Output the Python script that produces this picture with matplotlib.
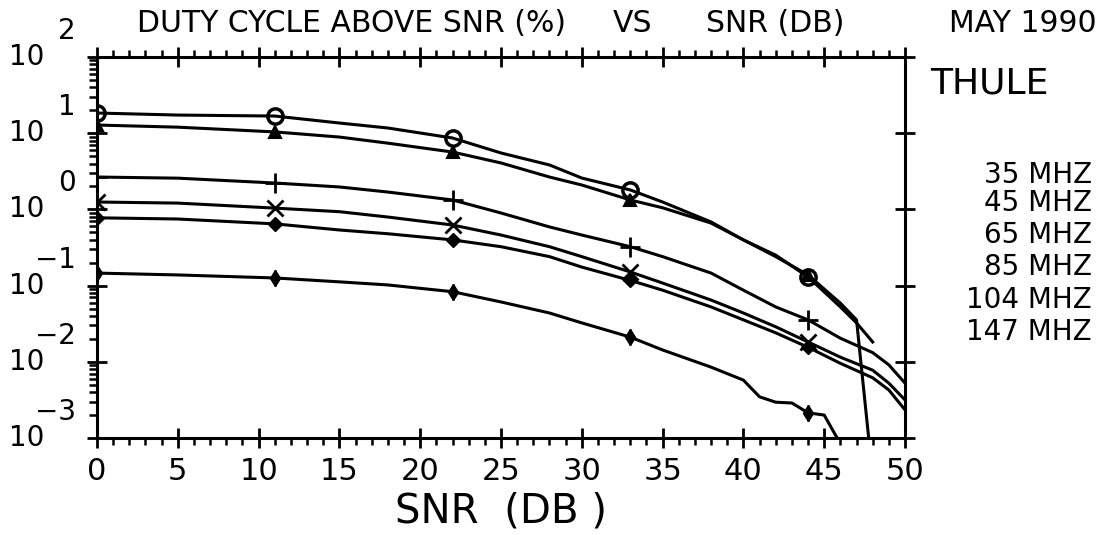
import matplotlib
matplotlib.use("Agg")
import matplotlib.pyplot as plt
import matplotlib.transforms as mtransforms
from matplotlib.ticker import MultipleLocator, LogLocator, NullFormatter

plt.rcParams['font.family'] = ['DejaVu Sans']

# duty cycle above SNR (%), per frequency
snr_a = [0, 5, 11, 15, 18, 22, 25, 28, 30, 33, 35, 38, 40, 42, 44, 46, 47, 48]
duty_35 = [18.4, 17.3, 16.8, 13.6, 11.7, 8.65, 5.5, 3.83, 2.58, 1.80, 1.25,
           0.684, 0.398, 0.251, 0.130, 0.0525, 0.0324, 0.0182]

snr_b = [0, 5, 11, 15, 18, 22, 25, 28, 30, 33, 35, 38, 40, 42, 44, 46, 47, 47.8]
duty_45 = [12.8, 12.0, 10.4, 8.9, 7.4, 5.66, 4.07, 2.66, 2.09, 1.33, 1.05,
           0.661, 0.398, 0.240, 0.138, 0.0589, 0.0355, 0.0008]

snr_c = [0, 5, 11, 15, 18, 22, 25, 28, 30, 33, 35, 38, 40, 42, 44, 46, 48, 49, 50]
duty_65 = [2.66, 2.57, 2.22, 1.97, 1.69, 1.33, 0.897, 0.589, 0.461, 0.324, 0.240,
           0.146, 0.0871, 0.0525, 0.0355, 0.0204, 0.0132, 0.00912, 0.00525]
duty_85 = [1.25, 1.21, 1.04, 0.933, 0.794, 0.624, 0.461, 0.324, 0.240, 0.151, 0.108,
           0.0646, 0.0437, 0.0288, 0.0182, 0.0115, 0.00776, 0.00525, 0.00316]
duty_104 = [0.776, 0.748, 0.646, 0.537, 0.479, 0.398, 0.324, 0.240, 0.175, 0.117, 0.0871,
            0.0525, 0.0355, 0.0240, 0.0155, 0.00955, 0.00617, 0.00427, 0.00234]

snr_f = [0, 5, 11, 15, 18, 22, 25, 28, 30, 33, 35, 38, 40, 41, 42, 43, 44, 45, 45.8]
duty_147 = [0.146, 0.138, 0.126, 0.112, 0.102, 0.0832, 0.0610, 0.0437, 0.0324, 0.0211,
            0.0143, 0.00851, 0.00575, 0.00347, 0.00295, 0.00288, 0.00214, 0.00200, 0.00100]

marker_snr = [0, 11, 22, 33, 44]
freq_labels = ['35 MHZ', '45 MHZ', '65 MHZ', '85 MHZ', '104 MHZ', '147 MHZ']
label_ypix = [175, 203, 235, 267, 300, 332]
xtick_vals = [0, 5, 10, 15, 20, 25, 30, 35, 40, 45, 50]
ytick_exps = [2, 1, 0, -1, -2, -3]

W, H = 1101, 535
fig = plt.figure(figsize=(W / 100, H / 100), dpi=100)
ax = fig.add_axes([97 / W, 1 - 438 / H, (905 - 97) / W, (438 - 57) / H])


def marks(xs):
    return [i for i, x in enumerate(xs) if x in marker_snr]


lw = 2.2
ax.plot(snr_a, duty_35, color='black', lw=lw, marker='o', ms=11, mfc='none', mew=2.5,
        markevery=marks(snr_a))
ax.plot(snr_b, duty_45, color='black', lw=lw, marker='^', ms=9, mew=1.5,
        markevery=marks(snr_b))
ax.plot(snr_c, duty_65, color='black', lw=lw, marker='+', ms=14, mew=2,
        markevery=marks(snr_c))
ax.plot(snr_c, duty_85, color='black', lw=lw, marker='x', ms=11, mew=2,
        markevery=marks(snr_c))
ax.plot(snr_c, duty_104, color='black', lw=lw, marker='D', ms=7,
        markevery=marks(snr_c))
ax.plot(snr_f, duty_147, color='black', lw=lw, marker='d', ms=8,
        markevery=marks(snr_f))
ax.plot(snr_f, duty_147, color='black', lw=0, marker='|', ms=12, mew=1.8,
        markevery=marks(snr_f))

ax.set_xlim(0, 50)
ax.set_yscale('log')
ax.set_ylim(1e-3, 1e2)

for s in ax.spines.values():
    s.set_linewidth(2.2)

ax.xaxis.set_major_locator(MultipleLocator(5))
ax.xaxis.set_minor_locator(MultipleLocator(1))
ax.yaxis.set_major_locator(LogLocator(base=10, numticks=10))
ax.yaxis.set_minor_locator(LogLocator(base=10, subs=range(2, 10), numticks=20))
ax.yaxis.set_major_formatter(NullFormatter())
ax.yaxis.set_minor_formatter(NullFormatter())

ax.tick_params(axis='x', which='major', direction='inout', length=15, width=2,
               top=True, bottom=True, labelsize=22, pad=6)
ax.tick_params(axis='x', which='minor', direction='out', length=5, width=1.8,
               top=True, bottom=True)
ax.tick_params(axis='y', which='major', direction='inout', length=15, width=2,
               left=True, right=True, labelleft=False)
ax.tick_params(axis='y', which='minor', direction='out', length=6, width=1.8,
               left=True, right=False)
ax.set_xticks(xtick_vals)
ax.set_xticklabels([str(v) for v in xtick_vals])

ax.set_xlabel('SNR  (DB )', fontsize=29, labelpad=4)

# y tick labels drawn as "10" with a raised exponent
trans = mtransforms.blended_transform_factory(fig.transFigure, ax.transData)
exp_trans = mtransforms.offset_copy(trans, fig=fig, y=26, units='dots')
for e in ytick_exps:
    ax.text(27 / W, 10.0 ** e, '10', transform=trans, fontsize=20,
            ha='center', va='center', clip_on=False)
    txt = str(e) if e >= 0 else '\u2212' + str(-e)
    ax.text(76 / W, 10.0 ** e, txt, transform=exp_trans, fontsize=20,
            ha='right', va='center', clip_on=False)

# header
fig.text(137 / W, 1 - 24 / H, 'DUTY CYCLE ABOVE SNR (%)', fontsize=21.5, va='center', ha='left')
fig.text(633 / W, 1 - 24 / H, 'VS', fontsize=21.5, va='center', ha='center')
fig.text(706 / W, 1 - 24 / H, 'SNR (DB)', fontsize=21.5, va='center', ha='left')
fig.text(1097 / W, 1 - 24 / H, 'MAY 1990', fontsize=21.5, va='center', ha='right')

fig.text(930 / W, 1 - 84 / H, 'THULE', fontsize=26, va='center', ha='left')
for lab, yp in zip(freq_labels, label_ypix):
    fig.text(1092 / W, 1 - yp / H, lab, fontsize=20, va='center', ha='right')

fig.savefig('out.png', dpi=100, facecolor='white')
